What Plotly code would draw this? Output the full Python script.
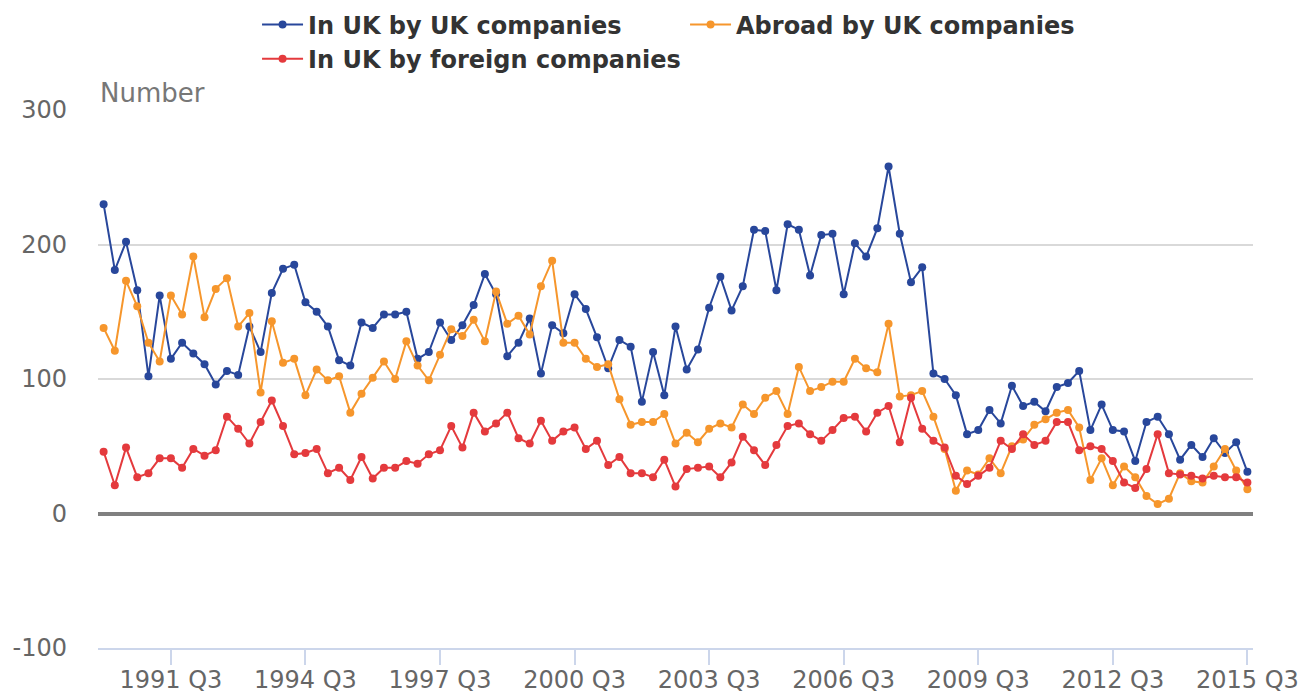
import plotly.graph_objects as go

# quarters 1990 Q1 .. 2015 Q3
quarters = [f"{y} Q{q}" for y in range(1990, 2016) for q in range(1, 5)][:103]

uk_by_uk = [230, 181, 202, 166, 102, 162, 115, 127, 119, 111, 96, 106, 103, 139, 120, 164, 182,
            185, 157, 150, 139, 114, 110, 142, 138, 148, 148, 150, 115, 120, 142, 129, 140, 155,
            178, 163, 117, 127, 145, 104, 140, 134, 163, 152, 131, 108, 129, 124, 83, 120, 88,
            139, 107, 122, 153, 176, 151, 169, 211, 210, 166, 215, 211, 177, 207, 208, 163, 201,
            191, 212, 258, 208, 172, 183, 104, 100, 88, 59, 62, 77, 67, 95, 80, 83, 76,
            94, 97, 106, 62, 81, 62, 61, 39, 68, 72, 59, 40, 51, 42, 56, 45, 53, 31]

abroad_by_uk = [138, 121, 173, 154, 127, 113, 162, 148, 191, 146, 167, 175, 139, 149, 90, 143, 112,
                115, 88, 107, 99, 102, 75, 89, 101, 113, 100, 128, 110, 99, 118, 137, 132, 144,
                128, 165, 141, 147, 133, 169, 188, 127, 127, 115, 109, 111, 85, 66, 68, 68, 74,
                52, 60, 53, 63, 67, 64, 81, 74, 86, 91, 74, 109, 91, 94, 98, 98, 115,
                108, 105, 141, 87, 88, 91, 72, 48, 17, 32, 29, 41, 30, 50, 55, 66, 70,
                75, 77, 64, 25, 41, 21, 35, 27, 13, 7, 11, 30, 24, 23, 35, 48, 32, 18]

uk_by_foreign = [46, 21, 49, 27, 30, 41, 41, 34, 48, 43, 47, 72, 63, 52, 68, 84, 65,
                 44, 45, 48, 30, 34, 25, 42, 26, 34, 34, 39, 37, 44, 47, 65, 49, 75,
                 61, 67, 75, 56, 52, 69, 54, 61, 64, 48, 54, 36, 42, 30, 30, 27, 40,
                 20, 33, 34, 35, 27, 38, 57, 47, 36, 51, 65, 67, 59, 54, 62, 71, 72,
                 61, 75, 80, 53, 86, 63, 54, 49, 28, 22, 28, 34, 54, 48, 59, 51, 54,
                 68, 68, 47, 50, 48, 39, 23, 19, 33, 59, 30, 29, 28, 26, 28, 27, 27, 23]

tick_labels = quarters[6::12]
y_ticks = [-100, 0, 100, 200, 300]
y_labels = ["-100", "0", "100", "200", "300"]

series = [
    ("In UK by UK companies", uk_by_uk, "#28479b"),
    ("Abroad by UK companies", abroad_by_uk, "#f6962c"),
    ("In UK by foreign companies", uk_by_foreign, "#e43a3d"),
]

fig = go.Figure()
for name, vals, col in series:
    fig.add_trace(go.Scatter(
        x=quarters, y=vals, name=name, mode="lines+markers",
        line=dict(color=col, width=2), marker=dict(color=col, size=8),
    ))

# page body adds an 8px offset, so the figure is a bit smaller than the window
fig.update_layout(
    width=1301, height=685,
    margin=dict(l=90, r=56, t=102, b=45, autoexpand=False),
    paper_bgcolor="white", plot_bgcolor="white",
    font=dict(family="DejaVu Sans", color="#666666"),
    legend=dict(
        orientation="h", x=0.1377, xanchor="left", y=1.2, yanchor="top",
        font=dict(size=24, color="#333333", weight="bold"),
        entrywidth=372, entrywidthmode="pixels", itemwidth=41,
    ),
    annotations=[dict(
        text="Number", x=0, y=1, xref="paper", yref="paper",
        xanchor="left", yanchor="bottom", showarrow=False,
        font=dict(size=26, color="#777777"),
    )],
)

fig.update_xaxes(
    type="category", range=[-0.5, 102.5], automargin=False,
    tickmode="array", tickvals=tick_labels, ticktext=tick_labels,
    ticks="outside", ticklen=15, tickcolor="#ccd6eb", tickwidth=2,
    showline=True, linecolor="#ccd6eb", linewidth=2,
    showgrid=False, tickfont=dict(size=24, color="#666666"),
    ticklabelstandoff=-6,
)
fig.update_yaxes(
    range=[-100, 300], automargin=False,
    tickmode="array", tickvals=y_ticks, ticktext=y_labels,
    showgrid=True, gridcolor="#d9d9d9", gridwidth=2,
    zeroline=True, zerolinecolor="#808080", zerolinewidth=4,
    ticklabelstandoff=30, tickfont=dict(size=24, color="#666666"),
)

fig.write_html("out.html")
